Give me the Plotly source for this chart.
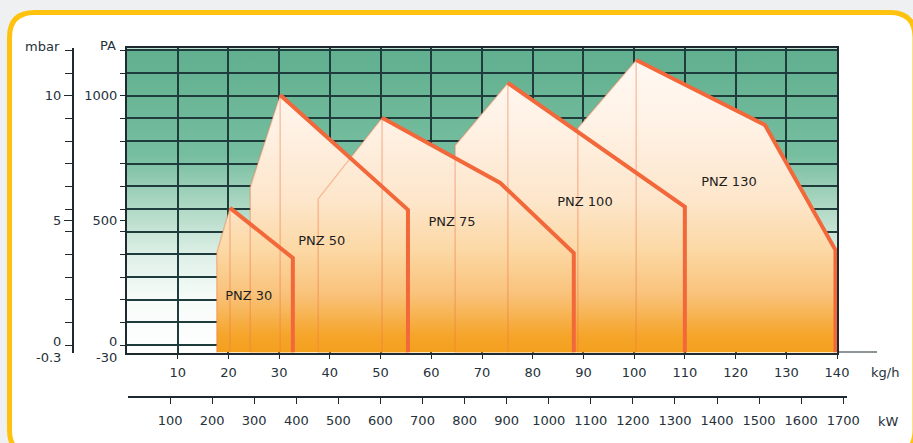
import base64
import plotly.graph_objects as go

W, H = 913, 443

# ---------------- data ----------------
kgh_ticks = [10, 20, 30, 40, 50, 60, 70, 80, 90, 100, 110, 120, 130, 140]
kw_ticks = [100, 200, 300, 400, 500, 600, 700, 800, 900, 1000, 1100, 1200,
            1300, 1400, 1500, 1600, 1700]
pa_ticks = [500, 1000]
mbar_ticks = [5, 10]

field_names = ["PNZ 30", "PNZ 50", "PNZ 75", "PNZ 100", "PNZ 130"]
# outline of each working field: left foot, left shoulder, peak, (bend), knee, right foot  (kg/h, Pa)
pnz30_x = [17.7, 17.7, 20.3, 32.7, 32.7]
pnz30_p = [-30, 370, 550, 349, -30]
pnz50_x = [24.3, 24.3, 30.2, 55.4, 55.4]
pnz50_p = [-30, 634, 1003, 542, -30]
pnz75_x = [37.7, 37.7, 50.3, 73.6, 88.1, 88.1]
pnz75_p = [-30, 586, 911, 650, 369, -30]
pnz100_x = [64.7, 64.7, 75.1, 110.0, 110.0]
pnz100_p = [-30, 800, 1051, 554, -30]
pnz130_x = [88.9, 88.9, 100.4, 125.8, 139.7, 139.7]
pnz130_p = [-30, 870, 1143, 882, 381, -30]
peak_index = 2

label_x = [24.0, 38.4, 64.1, 90.3, 118.7]
label_p = [193, 414, 490, 570, 650]

fields_x = [pnz30_x, pnz50_x, pnz75_x, pnz100_x, pnz130_x]
fields_p = [pnz30_p, pnz50_p, pnz75_p, pnz100_p, pnz130_p]

# ---------------- style ----------------
PA_MIN, PA_MAX = -30, 1190
GRID = "#1e3c3c"
AX = "#1f2a30"
TXT = "#26313a"
THICK = "#f2683a"
FAINT = "rgba(240,120,70,0.40)"
FONT = "DejaVu Sans"

def px(x):
    return x / W

def py(y):
    return 1 - y / H

orange_scale = [
    [0.0, "#f4a01e"],
    [0.057, "#f5a52a"],
    [0.19, "#f9c27a"],
    [0.336, "#fcd8a4"],
    [0.5, "#fde6cb"],
    [0.762, "#fff2e6"],
    [1.0, "#fffaf5"],
]

fig = go.Figure()

for xs, ps in zip(fields_x, fields_p):
    fig.add_trace(go.Scatter(
        x=xs, y=ps, mode="lines", fill="toself",
        line=dict(width=0, color="rgba(0,0,0,0)"),
        fillgradient=dict(type="vertical", colorscale=orange_scale,
                          start=PA_MIN, stop=PA_MAX),
        hoverinfo="skip", showlegend=False))

# faint construction lines (left edges and peak verticals)
for xs, ps in zip(fields_x, fields_p):
    fig.add_trace(go.Scatter(
        x=xs[:peak_index + 1], y=ps[:peak_index + 1], mode="lines",
        line=dict(width=1.5, color=FAINT), hoverinfo="skip", showlegend=False))
    fig.add_trace(go.Scatter(
        x=[xs[peak_index], xs[peak_index]], y=[ps[peak_index], PA_MIN], mode="lines",
        line=dict(width=1.5, color=FAINT), hoverinfo="skip", showlegend=False))

# thick limit lines
for xs, ps in zip(fields_x, fields_p):
    fig.add_trace(go.Scatter(
        x=xs[peak_index:], y=ps[peak_index:], mode="lines",
        line=dict(width=4, color=THICK), hoverinfo="skip", showlegend=False))

fig.add_trace(go.Scatter(
    x=label_x, y=label_p, mode="text", text=field_names,
    textfont=dict(family=FONT, size=13, color="#1e1e1e"),
    hoverinfo="skip", showlegend=False))

# helper traces so the secondary axes exist
fig.add_trace(go.Scatter(x=[None], y=[None], yaxis="y2", showlegend=False, hoverinfo="skip"))
fig.add_trace(go.Scatter(x=[None], y=[None], xaxis="x2", yaxis="y3", showlegend=False, hoverinfo="skip"))

# green background gradient (image below the grid lines)
svg = ('<svg xmlns="http://www.w3.org/2000/svg" width="100" height="100" '
       'viewBox="0 0 100 100" preserveAspectRatio="none">'
       '<defs><linearGradient id="g" x1="0" y1="0" x2="0" y2="1">'
       '<stop offset="0" stop-color="#60af8f"/>'
       '<stop offset="0.35" stop-color="#76bea0"/>'
       '<stop offset="0.52" stop-color="#aed8c3"/>'
       '<stop offset="0.68" stop-color="#def0e7"/>'
       '<stop offset="0.82" stop-color="#f6fbf8"/>'
       '<stop offset="1" stop-color="#ffffff"/>'
       '</linearGradient></defs>'
       '<rect x="0" y="0" width="100" height="100" fill="url(#g)"/></svg>')
src = "data:image/svg+xml;base64," + base64.b64encode(svg.encode()).decode()

# rounded gold frame
L, T, R, B, r = 9.5, 12.5, 915.0, 455.0, 25.0
frame = (f"M {px(L)} {py(T + r)} Q {px(L)} {py(T)} {px(L + r)} {py(T)} "
         f"L {px(R - r)} {py(T)} Q {px(R)} {py(T)} {px(R)} {py(T + r)} "
         f"L {px(R)} {py(B - r)} Q {px(R)} {py(B)} {px(R - r)} {py(B)} "
         f"L {px(L + r)} {py(B)} Q {px(L)} {py(B)} {px(L)} {py(B - r)} Z")

y_dom = [py(352.5), py(48.3)]

fig.update_layout(
    width=W, height=H,
    margin=dict(l=0, r=0, t=0, b=0),
    paper_bgcolor="#eef0f2",
    plot_bgcolor="rgba(0,0,0,0)",
    font=dict(family=FONT, size=13, color=TXT),
    showlegend=False,
    xaxis=dict(
        domain=[px(127), px(837)], range=[0, 140],
        tickmode="array", tickvals=kgh_ticks, ticktext=[str(v) for v in kgh_ticks],
        showgrid=True, gridcolor=GRID, gridwidth=1.6,
        showline=True, linecolor=AX, linewidth=2, mirror=True,
        ticks="outside", ticklen=4, tickcolor=AX, ticklabelstandoff=3,
        zeroline=False, automargin=False, fixedrange=True),
    yaxis=dict(
        domain=y_dom, range=[PA_MIN, PA_MAX],
        tickmode="array", tickvals=pa_ticks, ticktext=[str(v) for v in pa_ticks],
        showgrid=False, showline=True, linecolor=AX, linewidth=2, mirror=True,
        ticks="outside", ticklen=5, tickcolor=AX,
        minor=dict(tickmode="linear", tick0=0, dtick=1000 / 11, ticks="outside",
                   ticklen=5, tickcolor=AX, showgrid=True, gridcolor=GRID, gridwidth=1.6),
        zeroline=False, automargin=False, fixedrange=True),
    yaxis2=dict(
        overlaying="y", anchor="free", position=px(73), side="left",
        range=[PA_MIN / 100, PA_MAX / 100],
        tickmode="array", tickvals=mbar_ticks, ticktext=[str(v) for v in mbar_ticks],
        showgrid=False, showline=True, linecolor=AX, linewidth=2,
        ticks="outside", ticklen=8, tickcolor=AX,
        minor=dict(tickmode="linear", tick0=0, dtick=10 / 11, ticks="outside",
                   ticklen=7, tickcolor=AX, showgrid=False),
        zeroline=False, automargin=False, fixedrange=True),
    xaxis2=dict(
        domain=[px(128), px(847)], anchor="free", position=py(397),
        range=[0, 1709],
        tickmode="array", tickvals=kw_ticks, ticktext=[str(v) for v in kw_ticks],
        showgrid=False, showline=True, linecolor=AX, linewidth=2,
        ticks="outside", ticklen=6, tickcolor=AX, ticklabelstandoff=5,
        zeroline=False, automargin=False, fixedrange=True),
    yaxis3=dict(domain=[0, 0.05], visible=False, showgrid=False, range=[0, 1],
                fixedrange=True),
    images=[dict(source=src, xref="x", yref="y", x=0, y=PA_MAX, sizex=140,
                 sizey=PA_MAX - PA_MIN, sizing="stretch", xanchor="left",
                 yanchor="top", layer="below")],
    shapes=[
        dict(type="path", path=frame, xref="paper", yref="paper",
             fillcolor="white", line=dict(color="#ffc20e", width=5), layer="below"),
        dict(type="line", xref="paper", yref="y", x0=px(837), x1=px(877),
             y0=PA_MIN, y1=PA_MIN, line=dict(color=AX, width=2)),
    ],
)

def note(text, x, y, anchor="center"):
    fig.add_annotation(text=text, x=px(x), y=py(y), xref="paper", yref="paper",
                       showarrow=False, xanchor=anchor, yanchor="middle",
                       font=dict(family=FONT, size=13, color=TXT))

note("mbar", 42, 46)
note("PA", 108, 45)
note("kg/h", 885, 372)
note("kW", 888, 421)
note("0", 119, 341, "right")
note("-30", 119, 357, "right")
note("0", 63, 341, "right")
note("-0.3", 63, 357, "right")

fig.write_html("out.html", config={"displayModeBar": False},
               post_script="document.body.style.margin='0';document.body.style.overflow='hidden';")
